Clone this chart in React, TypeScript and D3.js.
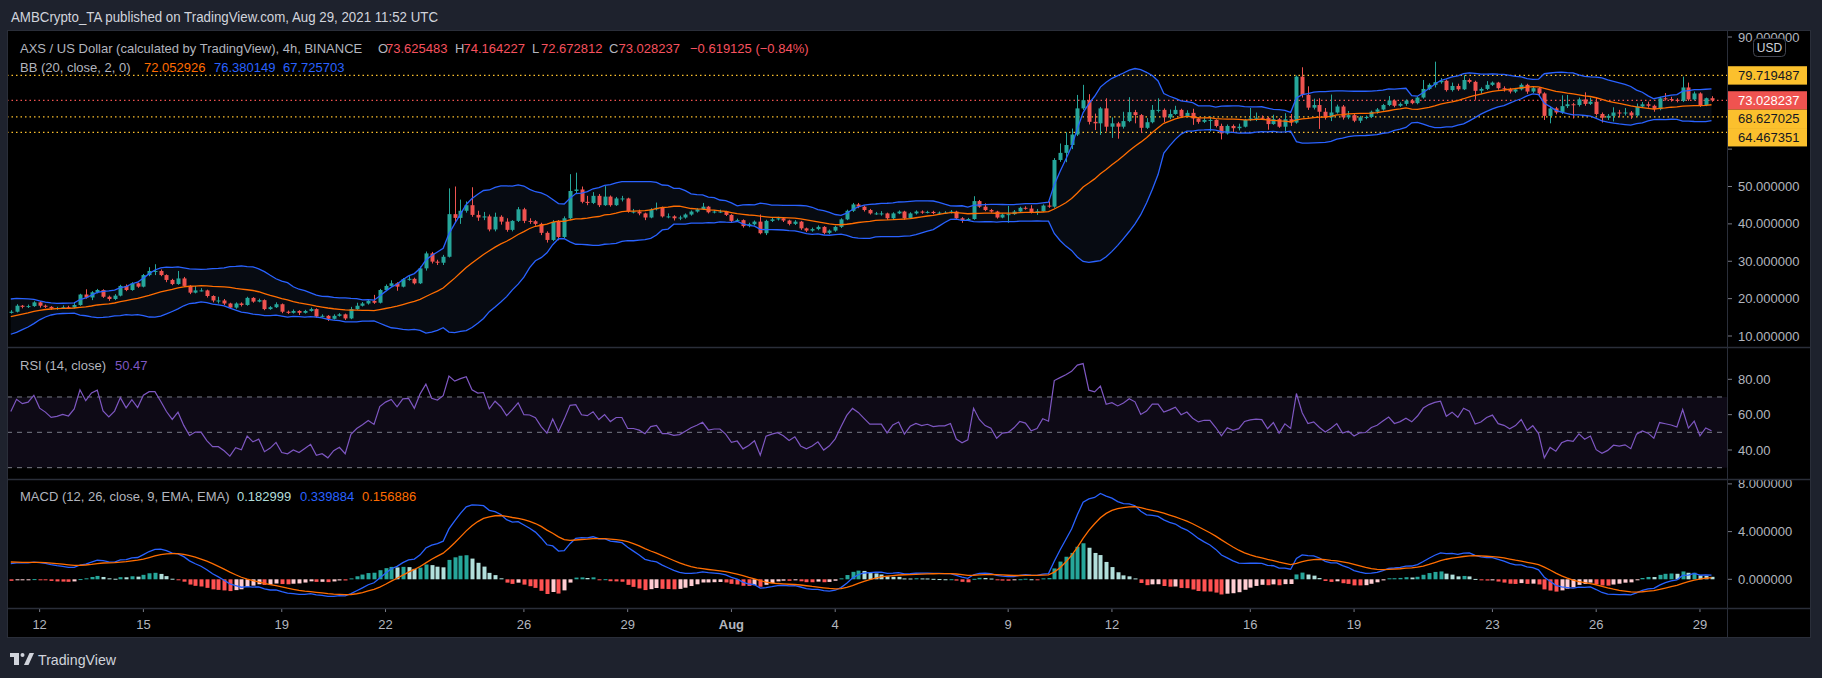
import React from "react";
import * as d3 from "d3";

const FONT = "'Liberation Sans', Arial, Helvetica, sans-serif";

// ---------------- data ----------------
const firstBarTime = "2021-07-11T04:00:00Z";
const lastBarTime = "2021-08-29T08:00:00Z";
const barHours = 4;

// closes before the visible window (only used to warm up BB / RSI / MACD)
const priorCloses = [
  9.0, 9.3, 9.1, 9.6, 9.9, 9.7, 10.2, 10.6, 10.4, 10.9, 11.3, 11.0, 11.6, 11.9, 11.5, 12.0, 12.4, 12.1, 12.6, 12.3,
  12.8, 12.5, 13.1, 12.7, 12.4, 12.9,
  11.4, 11.1, 11.6, 11.3, 12.0, 13.4, 14.5, 15.6,
  16.4, 17.2, 16.6, 17.5, 17.9, 17.1, 16.8, 17.4, 16.9, 16.3, 16.2,
];
const firstOpen = 16.2;

const closes = [
  16.5, 18.1, 17.8, 18.0, 19.0, 18.1, 17.8, 17.4, 17.5, 17.7,
  17.6, 18.3, 21.1, 20.3, 21.7, 22.3, 20.5, 19.9, 20.8, 23.4,
  22.3, 24.1, 23.2, 26.3, 27.4, 27.4, 26.3, 25.0, 23.9, 25.4,
  23.4, 21.6, 22.2, 22.2, 20.7, 19.5, 19.5, 18.7, 17.6, 18.7,
  18.3, 20.2, 19.2, 19.6, 17.2, 17.7, 18.5, 16.5, 16.2, 16.7,
  16.2, 16.7, 17.2, 15.2, 15.4, 14.6, 15.4, 15.8, 14.7, 17.2,
  18.1, 18.7, 19.4, 18.9, 22.3, 23.4, 24.1, 23.2, 25.2, 25.3,
  24.1, 28.1, 32.1, 29.9, 29.6, 31.2, 42.6, 41.6, 43.5, 45.0,
  42.4, 41.7, 42.0, 38.5, 41.9, 40.6, 38.4, 40.8, 43.9, 40.8,
  40.7, 40.0, 37.6, 35.7, 40.5, 36.5, 41.5, 48.8, 49.2, 45.9,
  45.6, 47.5, 45.0, 47.3, 45.0, 46.8, 46.8, 43.3, 43.3, 42.8,
  41.7, 43.9, 44.3, 42.0, 42.0, 41.5, 41.7, 42.5, 43.3, 43.9,
  44.6, 43.1, 43.3, 43.3, 42.4, 40.8, 41.0, 39.4, 39.9, 40.6,
  37.5, 40.8, 41.2, 41.5, 40.9, 40.0, 40.6, 38.8, 38.2, 38.6,
  39.2, 37.6, 38.2, 39.2, 41.2, 43.5, 45.2, 44.6, 43.7, 42.8,
  42.8, 42.8, 41.5, 42.8, 43.3, 41.5, 42.8, 43.3, 43.0, 43.2,
  42.9, 43.0, 43.0, 43.3, 41.5, 41.0, 41.3, 46.1, 44.6, 43.7,
  43.3, 41.7, 42.5, 42.6, 43.3, 44.3, 44.1, 43.1, 43.4, 44.9,
  44.6, 57.1, 59.0, 61.1, 63.9, 70.9, 73.1, 67.3, 66.9, 70.9,
  66.0, 66.9, 66.0, 67.5, 69.9, 69.1, 65.7, 67.2, 70.5, 70.5,
  68.5, 69.4, 70.5, 68.7, 69.7, 68.2, 67.3, 67.8, 67.8, 66.2,
  64.2, 66.2, 65.6, 66.0, 67.8, 68.2, 68.4, 68.3, 66.7, 68.0,
  66.0, 68.0, 67.1, 79.4, 74.5, 71.1, 71.8, 70.0, 68.5, 69.8,
  71.4, 68.5, 69.1, 67.6, 68.5, 68.6, 70.0, 70.6, 71.8, 73.0,
  71.6, 72.1, 73.0, 72.3, 73.8, 76.1, 77.2, 77.9, 78.3, 75.8,
  76.9, 76.0, 78.5, 78.0, 75.6, 76.1, 77.2, 77.8, 76.3, 76.0,
  75.4, 76.0, 77.2, 75.4, 76.3, 74.9, 68.9, 70.9, 69.8, 71.5,
  72.0, 71.8, 73.3, 72.1, 72.7, 69.4, 68.4, 68.9, 69.8, 69.6,
  69.8, 69.0, 71.4, 72.0, 71.6, 70.7, 73.6, 73.4, 73.2, 72.9,
  76.5, 73.3, 74.9, 71.8, 73.63, 73.03,
];

const highs = [
  16.9, 18.5, 18.3, 18.4, 19.3, 19.3, 18.4, 18.0, 17.8, 18.2,
  18.1, 19.0, 21.3, 22.5, 22.0, 22.6, 22.5, 20.8, 21.2, 23.7,
  23.8, 24.4, 24.3, 26.6, 28.4, 29.2, 27.8, 26.5, 25.3, 27.4,
  25.8, 23.6, 23.4, 22.8, 22.4, 20.9, 20.5, 19.9, 18.9, 19.0,
  19.0, 20.5, 20.4, 20.0, 19.8, 18.0, 19.0, 18.7, 16.8, 17.1,
  16.9, 17.0, 17.6, 17.4, 15.8, 15.6, 15.8, 16.1, 16.0, 17.8,
  18.9, 19.1, 19.7, 21.0, 22.6, 23.8, 24.9, 24.4, 25.5, 26.0,
  25.6, 28.6, 32.6, 32.5, 30.4, 31.7, 49.5, 50.0, 46.5, 46.0,
  49.8, 43.5, 43.2, 42.5, 43.0, 42.3, 41.5, 41.0, 44.5, 44.3,
  41.5, 41.0, 40.3, 38.0, 41.0, 41.0, 42.0, 53.3, 53.7, 50.0,
  47.5, 48.5, 48.0, 50.1, 47.6, 47.2, 47.5, 47.0, 44.0, 43.8,
  43.0, 44.2, 45.7, 44.6, 42.8, 42.3, 42.2, 42.8, 43.6, 44.2,
  45.6, 44.8, 43.7, 43.8, 43.5, 42.6, 41.4, 41.2, 40.3, 40.9,
  42.5, 41.1, 41.6, 41.9, 41.8, 41.1, 41.0, 40.8, 39.0, 39.0,
  39.6, 39.4, 38.5, 39.5, 41.5, 43.8, 45.6, 45.6, 44.9, 44.0,
  43.2, 43.4, 43.0, 43.1, 43.6, 43.5, 43.1, 43.6, 43.6, 43.5,
  43.5, 43.3, 43.4, 43.7, 43.5, 41.8, 41.6, 47.4, 46.4, 45.5,
  44.0, 43.5, 42.8, 44.8, 43.7, 44.6, 44.7, 45.0, 44.0, 45.2,
  46.0, 57.6, 61.5, 64.5, 65.5, 74.5, 77.2, 74.7, 69.5, 71.3,
  73.6, 68.5, 67.3, 70.0, 73.9, 70.5, 69.4, 68.3, 71.8, 73.6,
  70.9, 70.6, 71.6, 70.8, 70.4, 70.8, 68.5, 68.5, 68.8, 68.0,
  66.8, 66.6, 66.6, 66.8, 68.1, 71.0, 69.8, 69.0, 68.6, 69.2,
  68.3, 69.6, 69.4, 79.7, 81.9, 76.8, 73.5, 73.6, 71.0, 74.6,
  71.9, 71.8, 70.2, 69.5, 68.9, 69.0, 70.3, 71.0, 72.1, 74.2,
  73.3, 72.5, 73.3, 73.4, 74.1, 78.5, 77.6, 83.4, 79.0, 78.6,
  77.8, 77.5, 79.8, 78.9, 78.3, 76.5, 78.2, 78.1, 78.0, 76.8,
  76.4, 76.4, 77.6, 77.5, 76.7, 76.6, 75.2, 71.5, 71.3, 74.4,
  74.5, 72.4, 73.8, 75.2, 73.8, 73.9, 69.8, 69.4, 71.2, 70.5,
  71.0, 70.2, 72.2, 72.6, 72.7, 71.9, 74.0, 75.0, 74.0, 73.6,
  79.4, 77.8, 75.4, 75.2, 73.8, 74.16,
];

const lows = [
  16.0, 16.3, 17.4, 17.5, 17.8, 17.6, 17.5, 17.0, 17.0, 17.3,
  17.3, 17.4, 18.1, 20.0, 19.6, 21.4, 20.2, 19.4, 19.6, 20.6,
  22.0, 22.1, 22.9, 23.0, 26.0, 26.3, 26.0, 24.4, 23.6, 23.7,
  23.1, 21.2, 21.4, 21.9, 20.3, 19.0, 18.7, 18.3, 17.3, 17.3,
  17.9, 18.1, 18.9, 19.0, 16.9, 17.0, 17.5, 16.1, 15.9, 16.0,
  15.6, 16.0, 16.5, 14.9, 15.0, 14.0, 14.4, 15.2, 14.3, 14.5,
  17.0, 17.9, 18.4, 18.6, 18.7, 22.0, 23.2, 22.1, 23.0, 24.8,
  23.8, 23.9, 27.5, 29.4, 29.0, 29.0, 31.0, 40.5, 40.0, 43.0,
  41.9, 40.8, 41.0, 38.0, 38.0, 39.8, 37.9, 38.0, 40.5, 40.2,
  40.0, 39.5, 37.0, 35.0, 35.4, 35.6, 36.2, 41.2, 48.0, 45.5,
  45.0, 45.3, 44.5, 44.8, 44.6, 44.8, 46.0, 43.0, 42.8, 42.3,
  41.0, 41.5, 43.6, 41.7, 41.5, 40.9, 41.0, 41.4, 42.2, 43.0,
  43.7, 42.8, 42.8, 42.9, 42.1, 40.4, 40.5, 39.0, 39.1, 39.6,
  37.2, 37.0, 40.5, 40.9, 40.5, 39.6, 39.7, 38.4, 37.8, 37.9,
  38.3, 37.2, 37.3, 37.9, 38.9, 41.0, 43.2, 44.2, 43.3, 42.5,
  42.4, 42.2, 41.1, 41.3, 42.6, 41.1, 41.3, 42.5, 42.7, 42.8,
  42.6, 42.6, 42.7, 42.8, 41.2, 40.3, 40.8, 41.1, 44.3, 43.4,
  43.0, 41.4, 41.5, 40.3, 42.4, 43.0, 43.8, 42.8, 42.4, 43.2,
  44.3, 44.3, 56.6, 56.5, 60.0, 63.5, 70.5, 66.6, 65.1, 63.8,
  64.7, 63.0, 62.8, 65.5, 67.2, 66.9, 64.3, 65.4, 66.9, 69.8,
  67.2, 68.0, 69.2, 68.3, 68.4, 66.5, 66.8, 67.0, 64.7, 65.8,
  62.6, 63.9, 64.5, 65.0, 65.8, 67.5, 67.5, 67.8, 65.2, 66.5,
  65.7, 64.8, 66.2, 66.8, 73.8, 70.5, 70.6, 65.4, 67.9, 67.5,
  69.5, 67.9, 68.0, 67.2, 67.0, 68.0, 68.3, 69.5, 70.3, 71.5,
  71.2, 71.3, 71.6, 72.0, 72.0, 73.5, 75.8, 76.5, 77.5, 75.4,
  75.4, 75.6, 75.8, 77.6, 73.2, 74.8, 75.8, 76.9, 75.9, 75.4,
  74.9, 75.0, 75.7, 74.8, 75.0, 74.4, 67.8, 66.9, 69.3, 69.4,
  71.0, 68.2, 71.4, 71.6, 71.8, 69.0, 67.1, 67.8, 67.4, 68.5,
  69.0, 68.1, 68.7, 71.0, 71.1, 70.0, 70.4, 73.0, 72.7, 72.5,
  72.6, 72.9, 73.0, 71.3, 71.5, 72.67,
];

const priceTicks = [10, 20, 30, 40, 50, 60, 70, 80, 90];
const rsiTicks = [40, 60, 80];
const rsiLevels = [70, 50, 30];
const macdTicks = [0, 4, 8];
const timeTickDates = [
  "2021-07-12", "2021-07-15", "2021-07-19", "2021-07-22", "2021-07-26", "2021-07-29", "2021-08-01",
  "2021-08-04", "2021-08-09", "2021-08-12", "2021-08-16", "2021-08-19", "2021-08-23", "2021-08-26", "2021-08-29",
];
const timeTickLabels = ["12", "15", "19", "22", "26", "29", "Aug", "4", "9", "12", "16", "19", "23", "26", "29"];
const levelPrices = [79.719487, 68.627025, 64.467351];
const lastPrice = 73.028237;

const headerText = "AMBCrypto_TA published on TradingView.com, Aug 29, 2021 11:52 UTC";
const symbolText = "AXS / US Dollar (calculated by TradingView), 4h, BINANCE";
const ohlcLabels = ["O", "H", "L", "C"];
const ohlcValues = ["73.625483", "74.164227", "72.672812", "73.028237"];
const changeText = "\u22120.619125 (\u22120.84%)";
const bbTitle = "BB (20, close, 2, 0)";
const bbValues = ["72.052926", "76.380149", "67.725703"];
const rsiTitle = "RSI (14, close)";
const rsiValue = "50.47";
const macdTitle = "MACD (12, 26, close, 9, EMA, EMA)";
const macdValues = ["0.182999", "0.339884", "0.156886"];

// ---------------- colours ----------------
const C = {
  outer: "#1e222d",
  pane: "#000000",
  sep: "#2a2e39",
  text: "#b2b5be",
  header: "#d1d4dc",
  up: "#26a69a",
  down: "#ef5350",
  red: "#f7525f",
  orange: "#ff6d00",
  blue: "#2962ff",
  bbFill: "#070b12",
  purple: "#7e57c2",
  rsiFill: "#0e0a16",
  yellow: "#fbc02d",
};

// ---------------- indicators ----------------
function emaSeries(src: number[], len: number): number[] {
  const out = new Array(src.length).fill(NaN);
  const start = src.findIndex((v) => !isNaN(v));
  if (start < 0 || start + len > src.length) return out;
  const a = 2 / (len + 1);
  let prev = d3.mean(src.slice(start, start + len)) as number;
  out[start + len - 1] = prev;
  for (let k = start + len; k < src.length; k++) {
    prev = a * src[k] + (1 - a) * prev;
    out[k] = prev;
  }
  return out;
}

function rsiSeries(src: number[], len: number): number[] {
  const out = new Array(src.length).fill(NaN);
  let ag = 0;
  let al = 0;
  for (let k = 1; k <= len; k++) {
    const d = src[k] - src[k - 1];
    ag += Math.max(d, 0);
    al += Math.max(-d, 0);
  }
  ag /= len;
  al /= len;
  out[len] = al === 0 ? 100 : 100 - 100 / (1 + ag / al);
  for (let k = len + 1; k < src.length; k++) {
    const d = src[k] - src[k - 1];
    ag = (ag * (len - 1) + Math.max(d, 0)) / len;
    al = (al * (len - 1) + Math.max(-d, 0)) / len;
    out[k] = al === 0 ? 100 : 100 - 100 / (1 + ag / al);
  }
  return out;
}

export default function App() {
  const W = 1822;
  const H = 678;
  const box = { left: 7, right: 1811, top: 30, bottom: 638 };
  const axisX = 1727;
  const priceBottom = 347;
  const rsiBottom = 479;
  const macdBottom = 608;

  const t0 = new Date(firstBarTime).getTime();
  const bars = closes.map((c, i) => ({
    t: new Date(t0 + i * barHours * 3600e3),
    o: i === 0 ? firstOpen : closes[i - 1],
    h: highs[i],
    l: lows[i],
    c,
  }));

  const x = d3.scaleUtc().domain([new Date(firstBarTime), new Date(lastBarTime)]).range([10.8, 1711.5]);
  const yP = d3.scaleLinear().domain([10, 90]).range([336, 37]);
  const yR = d3.scaleLinear().domain([40, 80]).range([450, 379.3]);
  const yM = d3.scaleLinear().domain([0, 8]).range([579.3, 483.9]);

  const all = [...priorCloses, ...closes];
  const P = priorCloses.length;

  // Bollinger
  const bb = closes.map((_, i) => {
    const k = P + i;
    const win = all.slice(k - 19, k + 1);
    const m = d3.mean(win) as number;
    const sd = Math.sqrt(d3.mean(win.map((v) => (v - m) ** 2)) as number);
    return { t: bars[i].t, mid: m, up: m + 2 * sd, lo: m - 2 * sd };
  });

  // RSI
  const rsiAll = rsiSeries(all, 14);
  const rsi = closes.map((_, i) => ({ t: bars[i].t, v: rsiAll[P + i] }));

  // MACD
  const e12 = emaSeries(all, 12);
  const e26 = emaSeries(all, 26);
  const macdAll = all.map((_, k) => e12[k] - e26[k]);
  const sigAll = emaSeries(macdAll, 9);
  const macd = closes.map((_, i) => {
    const k = P + i;
    const h = macdAll[k] - sigAll[k];
    const hp = macdAll[k - 1] - sigAll[k - 1];
    const col = h >= 0 ? (hp < h ? "#26a69a" : "#b2dfdb") : hp < h ? "#ffcdd2" : "#ff5252";
    return { t: bars[i].t, m: macdAll[k], s: sigAll[k], h, col };
  });

  const bbArea = d3
    .area<any>()
    .x((d) => x(d.t))
    .y0((d) => yP(d.lo))
    .y1((d) => yP(d.up));
  const lineOf = (yf: (d: any) => number) => d3.line<any>().x((d) => x(d.t)).y(yf);

  // value labels on price axis with collision avoidance
  const labelItems = [
    ...levelPrices.map((v) => ({ v, bg: C.yellow, fg: "#131722" })),
    { v: lastPrice, bg: C.down, fg: "#ffffff" },
  ]
    .map((d) => ({ ...d, y: yP(d.v) }))
    .sort((a, b) => a.y - b.y);
  const LH = 18.4;
  for (let k = 1; k < labelItems.length; k++) {
    if (labelItems[k].y < labelItems[k - 1].y + LH) labelItems[k].y = labelItems[k - 1].y + LH;
  }
  // axis tick labels hidden behind value labels (as TradingView does)
  const visiblePriceTicks = priceTicks.filter((v) => labelItems.every((d) => Math.abs(d.y - yP(v)) > 13));

  const plotW = axisX - box.left;
  const fmt6 = d3.format(".6f");
  const fmt2 = d3.format(".2f");

  return (
    <svg
      width={W}
      height={H}
      style={{ position: "absolute", left: 0, top: 0, display: "block" }}
      fontFamily={FONT}
    >
      <defs>
        <clipPath id="cp-price">
          <rect x={box.left} y={box.top} width={plotW} height={priceBottom - box.top} />
        </clipPath>
        <clipPath id="cp-rsi">
          <rect x={box.left} y={priceBottom} width={plotW} height={rsiBottom - priceBottom} />
        </clipPath>
        <clipPath id="cp-macd">
          <rect x={box.left} y={rsiBottom} width={plotW} height={macdBottom - rsiBottom} />
        </clipPath>
        <clipPath id="cp-macd-axis">
          <rect x={axisX} y={rsiBottom} width={box.right - axisX} height={macdBottom - rsiBottom} />
        </clipPath>
      </defs>

      <rect x={0} y={0} width={W} height={H} fill={C.outer} />
      <text x={11} y={22} fontSize={14} fill={C.header} textLength={427} lengthAdjust="spacingAndGlyphs">
        {headerText}
      </text>

      <rect x={box.left} y={box.top} width={box.right - box.left} height={box.bottom - box.top} fill={C.pane} />

      {/* ---------- price pane ---------- */}
      <g clipPath="url(#cp-price)">
        <path d={bbArea(bb) || ""} fill={C.bbFill} />
        {levelPrices.map((v, k) => (
          <line
            key={"lv" + k}
            x1={box.left}
            x2={axisX}
            y1={yP(v)}
            y2={yP(v)}
            stroke={C.yellow}
            strokeWidth={1.2}
            strokeDasharray="1.5 3"
          />
        ))}
        <line
          x1={box.left}
          x2={axisX}
          y1={yP(lastPrice)}
          y2={yP(lastPrice)}
          stroke={C.down}
          strokeWidth={1.2}
          strokeDasharray="1.5 3"
        />
        {bars.map((b, i) => {
          const col = b.c >= b.o ? C.up : C.down;
          const cx = Math.round(x(b.t));
          const top = yP(Math.max(b.o, b.c));
          const bot = yP(Math.min(b.o, b.c));
          return (
            <g key={"c" + i}>
              <line x1={cx + 0.5} x2={cx + 0.5} y1={yP(b.h)} y2={yP(b.l)} stroke={col} strokeWidth={1} />
              <rect x={cx - 1.5} y={top} width={4} height={Math.max(1, bot - top)} fill={col} />
            </g>
          );
        })}
        <path d={lineOf((d) => yP(d.mid))(bb) || ""} fill="none" stroke={C.orange} strokeWidth={1.3} />
        <path d={lineOf((d) => yP(d.up))(bb) || ""} fill="none" stroke={C.blue} strokeWidth={1.3} />
        <path d={lineOf((d) => yP(d.lo))(bb) || ""} fill="none" stroke={C.blue} strokeWidth={1.3} />
      </g>

      <text y={52.5} fontSize={13} fill={C.text}>
        <tspan x={20}>{symbolText}</tspan>
        {ohlcLabels.map((lab, k) => (
          <React.Fragment key={"o" + k}>
            <tspan x={378 + k * 77}>{lab}</tspan>
            <tspan x={386 + k * 77.5} fill={C.red}>
              {ohlcValues[k]}
            </tspan>
          </React.Fragment>
        ))}
        <tspan x={690} fill={C.red}>
          {changeText}
        </tspan>
      </text>
      <text y={71.5} fontSize={13} fill={C.text}>
        <tspan x={20}>{bbTitle}</tspan>
        <tspan x={144} fill={C.orange}>
          {bbValues[0]}
        </tspan>
        <tspan x={214} fill={C.blue}>
          {bbValues[1]}
        </tspan>
        <tspan x={283} fill={C.blue}>
          {bbValues[2]}
        </tspan>
      </text>

      {/* ---------- RSI pane ---------- */}
      <g clipPath="url(#cp-rsi)">
        <rect x={box.left} y={yR(70)} width={plotW} height={yR(30) - yR(70)} fill={C.rsiFill} />
        {rsiLevels.map((v) => (
          <line
            key={"rl" + v}
            x1={box.left}
            x2={axisX}
            y1={yR(v)}
            y2={yR(v)}
            stroke="#787b86"
            strokeWidth={1}
            strokeDasharray="5 5"
          />
        ))}
        <path
          d={lineOf((d) => yR(d.v))(rsi.filter((d) => !isNaN(d.v))) || ""}
          fill="none"
          stroke={C.purple}
          strokeWidth={1.2}
        />
      </g>
      <text y={370} fontSize={13} fill={C.text}>
        <tspan x={20}>{rsiTitle}</tspan>
        <tspan x={115} fill={C.purple}>
          {rsiValue}
        </tspan>
      </text>

      {/* ---------- MACD pane ---------- */}
      <g clipPath="url(#cp-macd)">
        {macd.map((d, i) => {
          const cx = Math.round(x(d.t));
          const y0 = yM(0);
          const y1 = yM(d.h);
          return (
            <rect
              key={"h" + i}
              x={cx - 1.5}
              y={Math.min(y0, y1)}
              width={4}
              height={Math.max(1, Math.abs(y1 - y0))}
              fill={d.col}
            />
          );
        })}
        <path d={lineOf((d) => yM(d.m))(macd) || ""} fill="none" stroke={C.blue} strokeWidth={1.3} />
        <path d={lineOf((d) => yM(d.s))(macd) || ""} fill="none" stroke={C.orange} strokeWidth={1.3} />
      </g>
      <text y={501} fontSize={13} fill={C.text}>
        <tspan x={20}>{macdTitle}</tspan>
        <tspan x={237} fill="#b2dfdb">
          {macdValues[0]}
        </tspan>
        <tspan x={300} fill={C.blue}>
          {macdValues[1]}
        </tspan>
        <tspan x={362} fill={C.orange}>
          {macdValues[2]}
        </tspan>
      </text>

      {/* ---------- right axes ---------- */}
      {priceTicks.map((v) => (
        <line key={"ptl" + v} x1={axisX} x2={axisX + 5} y1={yP(v)} y2={yP(v)} stroke="#787b86" />
      ))}
      {visiblePriceTicks.map((v) => (
        <text key={"pt" + v} x={1738} y={yP(v) + 4.5} fontSize={13} fill={C.text}>
          {fmt6(v)}
        </text>
      ))}
      {labelItems.map((d, k) => (
        <g key={"lb" + k}>
          <rect x={axisX} y={d.y - LH / 2} width={80} height={LH} fill={d.bg} />
          <text x={1738} y={d.y + 4.5} fontSize={13} fill={d.fg}>
            {fmt6(d.v)}
          </text>
        </g>
      ))}
      <rect x={1753.5} y={38.5} width={32} height={18} rx={4} fill="#000" stroke="#434651" />
      <text x={1769.5} y={52} fontSize={12} fill={C.header} textAnchor="middle">
        USD
      </text>

      {rsiTicks.map((v) => (
        <g key={"rt" + v}>
          <line x1={axisX} x2={axisX + 5} y1={yR(v)} y2={yR(v)} stroke="#787b86" />
          <text x={1738} y={yR(v) + 4.5} fontSize={13} fill={C.text}>
            {fmt2(v)}
          </text>
        </g>
      ))}
      <g clipPath="url(#cp-macd-axis)">
        {macdTicks.map((v) => (
          <g key={"mt" + v}>
            <line x1={axisX} x2={axisX + 5} y1={yM(v)} y2={yM(v)} stroke="#787b86" />
            <text x={1738} y={yM(v) + 4.5} fontSize={13} fill={C.text}>
              {fmt6(v)}
            </text>
          </g>
        ))}
      </g>

      {/* ---------- time axis ---------- */}
      {timeTickDates.map((s, k) => {
        const tx = x(new Date(s + "T00:00:00Z"));
        return (
          <g key={"tt" + k}>
            <line x1={tx} x2={tx} y1={macdBottom} y2={macdBottom + 4} stroke="#787b86" />
            <text
              x={tx}
              y={628.5}
              fontSize={13}
              fill={C.text}
              textAnchor="middle"
              fontWeight={timeTickLabels[k] === "Aug" ? "bold" : "normal"}
            >
              {timeTickLabels[k]}
            </text>
          </g>
        );
      })}

      {/* ---------- separators / frame ---------- */}
      <line x1={axisX + 0.5} x2={axisX + 0.5} y1={box.top} y2={box.bottom} stroke={C.sep} />
      {[priceBottom, rsiBottom, macdBottom].map((y) => (
        <line key={"sp" + y} x1={box.left} x2={box.right} y1={y + 0.5} y2={y + 0.5} stroke={C.sep} strokeWidth={1.5} />
      ))}
      <rect
        x={box.left + 0.5}
        y={box.top + 0.5}
        width={box.right - box.left - 1}
        height={box.bottom - box.top - 1}
        fill="none"
        stroke={C.sep}
      />

      {/* ---------- TradingView logo ---------- */}
      <g fill={C.header}>
        <rect x={10} y={653} width={9} height={4} />
        <rect x={14} y={653} width={5} height={12} />
        <circle cx={22.5} cy={655} r={2} />
        <polygon points="24,665 29.5,653 34,653 28.5,665" />
      </g>
      <text x={38} y={664.5} fontSize={15} fill={C.header} textLength={78} lengthAdjust="spacingAndGlyphs">
        TradingView
      </text>
    </svg>
  );
}
